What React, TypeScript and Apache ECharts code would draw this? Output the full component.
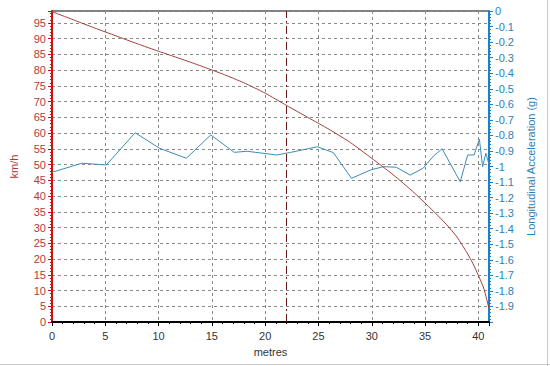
import React, { useEffect, useRef } from "react";
import * as echarts from "echarts";

const speedX = [0, 2, 4, 6, 8, 10, 12, 14, 16, 18, 20, 22, 24, 26, 28, 30, 32, 34, 36, 37, 38, 39, 39.5, 40, 40.5, 41];
const speedKmh = [98.6, 96, 93.4, 90.9, 88.4, 86, 83.7, 81.3, 78.8, 76, 72.7, 68.8, 65, 61.2, 57, 52, 46.8, 41, 34.5, 31, 27, 21.6, 18.5, 14.8, 10.8, 4.3];

const accX = [0, 2.8, 5.1, 7.8, 10.1, 12.6, 14.9, 17.1, 18.3, 21.1, 22.4, 24.9, 26.4, 28.1, 29.9, 31.1, 32.3, 33.6, 34.8, 35.8, 36.6, 38.3, 39.0, 39.6, 40.1, 40.4, 40.7, 41];
const accG = [-1.037, -0.979, -0.99, -0.783, -0.883, -0.947, -0.797, -0.909, -0.902, -0.926, -0.909, -0.873, -0.911, -1.076, -1.022, -1.001, -1.005, -1.055, -1.012, -0.932, -0.886, -1.098, -0.926, -0.926, -0.825, -1.001, -0.915, -0.985];

const markerX = 22;

export default function App() {
  const ref = useRef<HTMLDivElement>(null);
  useEffect(() => {
    if (!ref.current) return;
    const chart = echarts.init(ref.current, null, { renderer: "svg" });
    const font = "Liberation Sans, Arial, sans-serif";
    chart.setOption({
      animation: false,
      backgroundColor: "#ffffff",
      grid: { left: 50, top: 11, width: 439, height: 311, show: true, borderColor: "#000", borderWidth: 1 },
      graphic: [
        { type: "line", shape: { x1: 0, y1: 364.5, x2: 550, y2: 364.5 }, style: { stroke: "#c8c8c8", lineWidth: 1 } },
        { type: "line", shape: { x1: 547.5, y1: 0, x2: 547.5, y2: 366 }, style: { stroke: "#c8c8c8", lineWidth: 1 } },
      ],
      xAxis: {
        type: "value",
        min: 0,
        max: 41,
        interval: 5,
        name: "metres",
        nameLocation: "middle",
        nameGap: 24,
        nameTextStyle: { color: "#333", fontSize: 11, fontFamily: font },
        axisLine: { lineStyle: { color: "#000", width: 2 } },
        axisTick: { length: 4, lineStyle: { color: "#000" } },
        minorTick: { show: true, splitNumber: 5, length: 2, lineStyle: { color: "#000" } },
        axisLabel: { color: "#333", fontSize: 11, fontFamily: font, margin: 8, showMaxLabel: false },
        splitLine: { show: true, lineStyle: { color: "#8a8a8a", type: [3, 3], width: 1 } },
      },
      yAxis: [
        {
          type: "value",
          position: "left",
          min: 0,
          max: 98.8,
          interval: 5,
          name: "km/h",
          nameLocation: "middle",
          nameRotate: 90,
          nameGap: 33,
          nameTextStyle: { color: "#b03a3a", fontSize: 11, fontFamily: font },
          axisLine: { show: true, lineStyle: { color: "#cc1111", width: 2 } },
          axisTick: { show: true, length: 4, lineStyle: { color: "#cc1111" } },
          minorTick: { show: true, splitNumber: 5, length: 2, lineStyle: { color: "#cc1111" } },
          axisLabel: { color: "#b03a3a", fontSize: 11, fontFamily: font, margin: 6, showMaxLabel: false },
          splitLine: { show: true, lineStyle: { color: "#8a8a8a", type: [3, 3], width: 1 } },
        },
        {
          type: "value",
          position: "right",
          min: -2,
          max: 0,
          interval: 0.1,
          name: "Longitudinal Acceleration (g)",
          nameLocation: "middle",
          nameRotate: 90,
          nameGap: 36,
          nameTextStyle: { color: "#2b80b9", fontSize: 11, fontFamily: font },
          axisLine: { show: true, lineStyle: { color: "#1a7fd0", width: 2 } },
          axisTick: { show: true, length: 4, lineStyle: { color: "#1a7fd0" } },
          minorTick: { show: true, splitNumber: 5, length: 2, lineStyle: { color: "#1a7fd0" } },
          axisLabel: {
            color: "#2b80b9",
            fontSize: 11,
            fontFamily: font,
            margin: 6,
            showMinLabel: false,
            formatter: (v: number) => String(Math.round(v * 10) / 10),
          },
          splitLine: { show: false },
        },
      ],
      series: [
        {
          type: "line",
          yAxisIndex: 1,
          data: accX.map((x, i) => [x, accG[i]]),
          showSymbol: false,
          lineStyle: { color: "#3a8cb5", width: 1 },
          z: 3,
        },
        {
          type: "line",
          yAxisIndex: 0,
          data: speedX.map((x, i) => [x, speedKmh[i]]),
          showSymbol: false,
          smooth: 0.2,
          lineStyle: { color: "#a0403a", width: 1 },
          z: 4,
          markLine: {
            silent: true,
            symbol: "none",
            label: { show: false },
            lineStyle: { color: "#6e1c1c", type: [8, 3, 2, 3], width: 1 },
            data: [{ xAxis: markerX }],
          },
        },
      ],
    });
    return () => chart.dispose();
  }, []);
  return <div ref={ref} style={{ position: "fixed", left: 0, top: 0, width: 550, height: 366 }} />;
}
